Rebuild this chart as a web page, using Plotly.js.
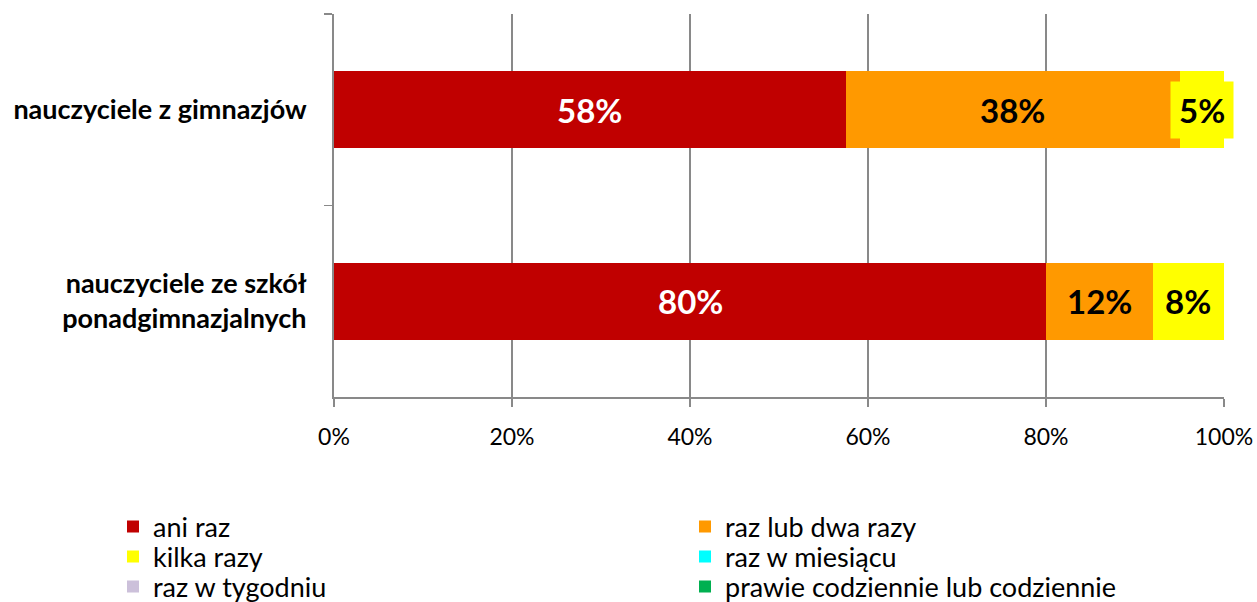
<!DOCTYPE html>
<html>
<head>
<meta charset="utf-8">
<script src="https://cdn.plot.ly/plotly-3.0.1.min.js"></script>
<style>html,body{margin:0;padding:0;background:#fff;}#chart{width:1257px;height:602px;}</style>
</head>
<body>
<div id="chart"></div>
<script>
const categories = ['nauczyciele z gimnazjów', 'nauczyciele ze szkół<br>ponadgimnazjalnych'];
const seriesNames = ['ani raz', 'raz lub dwa razy', 'kilka razy', 'raz w miesiącu', 'raz w tygodniu', 'prawie codziennie lub codziennie'];
const aniRaz = [57.5, 80];
const razLubDwaRazy = [37.5, 12];
const kilkaRazy = [5, 8];
const razWMiesiacu = [0, 0];
const razWTygodniu = [0, 0];
const prawieCodziennie = [0, 0];
const seriesColors = ['#C00000', '#FF9900', '#FFFF00', '#00FFFF', '#CCC0DA', '#00B050'];
const labelColors = ['#FFFFFF', '#000000', '#000000', '#000000', '#000000', '#000000'];
const xTickVals = [0, 20, 40, 60, 80, 100];
const xTickText = ['0%', '20%', '40%', '60%', '80%', '100%'];

const seriesValues = [aniRaz, razLubDwaRazy, kilkaRazy, razWMiesiacu, razWTygodniu, prawieCodziennie];
const FONT = 'Lato, "Open Sans", sans-serif';
const legendIds = ['legend', 'legend2', 'legend3', 'legend4', 'legend5', 'legend6'];

const traces = seriesValues.map((vals, i) => ({
  type: 'bar', orientation: 'h', name: seriesNames[i],
  x: vals, y: categories,
  marker: {color: seriesColors[i], line: {width: 0}},
  legend: legendIds[i],
  hoverinfo: 'x+name'
}));

const annotations = [];
categories.forEach((cat, j) => {
  let cum = 0;
  seriesValues.forEach((vals, i) => {
    const v = vals[j];
    if (v > 0) {
      annotations.push({
        x: cum + v / 2, y: cat, xref: 'x', yref: 'y',
        text: Math.round(v) + '%', showarrow: false,
        font: {family: FONT, size: 33, color: labelColors[i], weight: 'bold'},
        bgcolor: seriesColors[i], borderpad: 8
      });
    }
    cum += v;
  });
});

// legend grid: 2 columns x 3 rows (entries flow left-to-right)
const legendColX = [113 / 1257, 685 / 1257];
const legendRowY = [1 - 527 / 602, 1 - 557 / 602, 1 - 587 / 602];

function legendBox(k) {
  return {
    orientation: 'h', xref: 'container', yref: 'container',
    x: legendColX[k % 2], xanchor: 'left', y: legendRowY[Math.floor(k / 2)], yanchor: 'middle',
    font: {family: FONT, size: 27, color: '#000'}, itemclick: false,
    bgcolor: 'rgba(0,0,0,0)', borderwidth: 0
  };
}

const layout = {
  width: 1257, height: 602,
  margin: {l: 334, r: 33, t: 14, b: 205},
  paper_bgcolor: '#fff', plot_bgcolor: '#fff',
  barmode: 'stack', bargap: 0.6,
  showlegend: true,
  xaxis: {
    range: [0, 100], tickmode: 'array', tickvals: xTickVals, ticktext: xTickText,
    showgrid: true, gridcolor: '#898989', gridwidth: 1.5,
    showline: true, linecolor: '#898989', linewidth: 1.5,
    ticks: 'outside', ticklen: 8, tickcolor: '#898989', tickwidth: 1.5,
    zeroline: false, ticklabelstandoff: 11,
    tickfont: {family: FONT, size: 23, color: '#000'}, fixedrange: true
  },
  yaxis: {
    autorange: 'reversed', type: 'category',
    showline: true, linecolor: '#898989', linewidth: 2,
    ticks: 'outside', tickson: 'boundaries', ticklen: 8, tickcolor: '#898989', tickwidth: 1.5,
    showgrid: false, ticklabelstandoff: 20,
    tickfont: {family: FONT, size: 27, color: '#000', weight: 'bold'}, fixedrange: true
  },
  annotations: annotations
};
legendIds.forEach((id, k) => { layout[id] = legendBox(k); });

Plotly.newPlot('chart', traces, layout, {displayModeBar: false, staticPlot: true});
</script>
</body>
</html>
